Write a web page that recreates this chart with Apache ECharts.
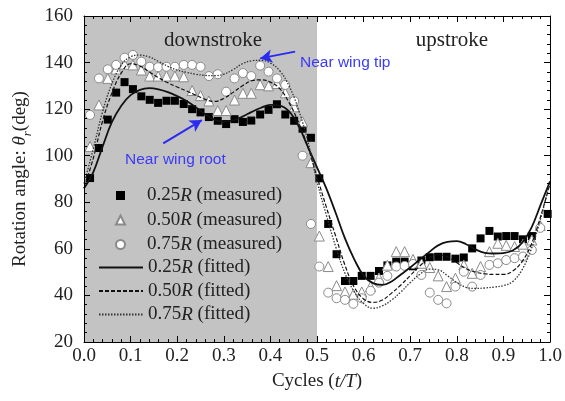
<!DOCTYPE html>
<html><head><meta charset="utf-8">
<script src="https://cdn.jsdelivr.net/npm/echarts@6/dist/echarts.min.js"></script>
<style>html,body{margin:0;padding:0;background:#fff}#c{width:565px;height:401px}</style>
</head><body><div id="c"></div><script>
// ---- data ----
const tMeasured = [0.013,0.032,0.051,0.069,0.087,0.105,0.123,0.141,0.159,0.177,0.195,0.214,0.232,0.250,0.268,0.287,0.305,0.323,0.341,0.359,0.378,0.396,0.414,0.432,0.451,0.469,0.487,0.505,0.524,0.542,0.560,0.578,0.596,0.615,0.633,0.651,0.670,0.688,0.706,0.724,0.742,0.760,0.778,0.797,0.815,0.833,0.851,0.870,0.888,0.906,0.924,0.942,0.961,0.979,0.995];
const measured25 = [90.4,103.3,115.5,127.1,131.6,128.6,125.5,124.0,122.7,123.6,123.6,122.2,120.0,118.6,116.6,115.0,113.6,115.7,114.5,115.1,117.7,119.7,122.1,117.7,115.0,111.6,107.7,90.3,70.7,57.7,46.2,46.2,48.4,48.4,50.5,52.9,54.5,54.5,52.5,55.0,56.4,56.6,56.6,55.8,56.3,60.2,64.5,67.7,65.3,65.5,65.5,64.1,65.5,null,75.0];
const measured50 = [104,121.8,133.2,137.2,139.3,139.0,136.8,134.2,134.2,134.2,134.2,133.9,128.0,125.8,123.5,119.4,119.4,123.9,126.8,126.8,130.5,130.0,131.0,127.0,121.0,114.6,97.0,65.5,52.4,44.2,41.5,40.5,41.5,43.8,47.5,53.0,58.8,58.8,55.5,53.8,52.0,48.4,43.8,47.4,53.1,49.5,52.4,58.8,62.4,61.5,61.0,62.0,63.8,70.0,null];
const measured75 = [117.5,133.2,137.1,139.0,142.1,143.3,140.4,138.2,138.0,138.2,138.2,139.0,139.0,138.2,134.2,135.0,127.5,133.2,135.5,134.2,138.7,136.1,133.2,130.4,123.5,100.0,70.7,52.4,41.2,38.8,38.1,36.4,38.8,42.0,45.5,48.4,52.4,52.7,53.5,48.8,41.2,38.1,36.6,43.8,50.2,43.8,48.8,53.1,53.8,55.2,56.0,56.7,59.5,69.0,null];
const tFit = [0,0.02,0.04,0.06,0.08,0.10,0.12,0.14,0.16,0.18,0.20,0.22,0.24,0.26,0.28,0.30,0.32,0.34,0.36,0.38,0.40,0.42,0.44,0.46,0.48,0.50,0.52,0.54,0.56,0.58,0.60,0.62,0.64,0.66,0.68,0.70,0.72,0.74,0.76,0.78,0.80,0.82,0.84,0.86,0.88,0.90,0.92,0.94,0.96,0.98,1.00];
const fitted25 = [86,93,104,114.5,121.5,126,128.3,129,128.5,127.3,125.6,123.5,120.8,117.8,115.5,114.6,115.2,116.8,118.8,120.6,121.8,121.5,119,113,104,95,86,75.5,64.5,55.5,48.5,45.3,44.5,46,49,52,55.3,58.5,61.5,63,63.3,62,59.8,58.3,58,58.2,59.3,62.5,69,79,89];
const fitted50 = [86,99,115,127,135.5,139.5,138.5,136,133.5,131.3,129.5,127.8,126,124.2,123.3,124.6,127.2,130,132.2,132.6,131.6,128.8,122.8,114.5,104,91,78,65.5,53,43.5,38.5,37,38,41,44.5,48.5,52.5,56,57.5,56.5,54,51.5,50,49.3,49,49,50.5,54.5,62,74,88];
const fitted75 = [88,103,119,131,139,142.5,143.2,142.4,140.5,138.4,136.8,135.8,135,134.5,134.4,135,137,139.5,140.8,141,139.8,136.5,130,120,106.5,89,74.5,61,49.5,41.5,36.5,34.5,35.5,38,41.5,45.5,49,51.3,51,48.5,45.5,43.5,43,43.2,43.6,44.2,46,51,60,73,89];
const seriesNames = ['0.25R (measured)','0.50R (measured)','0.75R (measured)','0.25R (fitted)','0.50R (fitted)','0.75R (fitted)'];
const phaseLabels = ['downstroke','upstroke'];
const noteLabels = ['Near wing tip','Near wing root'];
const tipArrow = [[0.453,144.7],[0.378,141.8]];
const rootArrow = [[0.170,105.3],[0.253,115.3]];

// ---- chart ----
const serif = '"Liberation Serif","Times New Roman",serif';
const sans = '"Liberation Sans",Arial,sans-serif';
const pairs = (xs, ys) => xs.map((x,i)=>[x, ys[i]]).filter(p=>p[1]!=null);
const chart = echarts.init(document.getElementById('c'));

function axisBase(pos, show){
  return {
    type:'value', position:pos, z:10,
    axisLine:{show:true,onZero:false,lineStyle:{color:'#000',width:1}},
    axisTick:{show:true,inside:true,length:6,lineStyle:{color:'#000',width:1}},
    minorTick:{show:true,splitNumber:5,length:3,lineStyle:{color:'#000',width:1}},
    splitLine:{show:false}, minorSplitLine:{show:false},
    axisLabel:{show:show,fontFamily:serif,fontSize:19,color:'#222'}
  };
}
const xB = Object.assign(axisBase('bottom',true),{min:0,max:1,interval:0.1});
xB.axisLabel.margin = 5;
xB.axisLabel.formatter = v => v.toFixed(1);
xB.name = '{a|Cycles (}{i|t/T}{a|)}';
xB.nameLocation = 'middle'; xB.nameGap = 30;
xB.nameTextStyle = {rich:{a:{fontFamily:serif,fontSize:19,color:'#222'},i:{fontFamily:serif,fontSize:19,fontStyle:'italic',color:'#222'}}};
const xT = Object.assign(axisBase('top',false),{min:0,max:1,interval:0.1});
const yL = Object.assign(axisBase('left',true),{min:20,max:160,interval:20});
yL.axisLabel.margin = 11;
yL.name = '{a|Rotation angle: }{i|θ}{s|r}{a|(deg)}';
yL.nameLocation = 'middle'; yL.nameGap = 47; yL.nameRotate = 90;
yL.nameTextStyle = {rich:{
  a:{fontFamily:serif,fontSize:19,color:'#222'},
  i:{fontFamily:serif,fontSize:19,fontStyle:'italic',color:'#222'},
  s:{fontFamily:serif,fontSize:13,fontStyle:'italic',color:'#222',verticalAlign:'bottom',lineHeight:28}}};
const yR = Object.assign(axisBase('right',false),{min:20,max:160,interval:20});

const legendText = {fontFamily:serif,fontSize:19,color:'#222',rich:{i:{fontFamily:serif,fontSize:19,fontStyle:'italic',color:'#222'}}};
const fmt = n => n.replace('R','{i|R}');

const option = {
  animation:false,
  backgroundColor:'#fff',
  grid:{left:84,right:15,top:16,bottom:59},
  xAxis:[xB,xT],
  yAxis:[yL,yR],
  legend:[{
    data:seriesNames.slice(0,3), orient:'vertical', left:115, top:186, padding:0,
    itemWidth:9, itemHeight:9, itemGap:5.5,
    textStyle:Object.assign({padding:[0,0,0,17]},legendText), formatter:fmt
  },{
    data:seriesNames.slice(3).map(n=>({name:n,itemStyle:{opacity:0}})), orient:'vertical', left:98, top:258, padding:0,
    itemWidth:44, itemHeight:8, itemGap:4.5,
    textStyle:legendText, formatter:fmt
  }],
  graphic:[
    {type:'text',x:213,y:40,style:{text:phaseLabels[0],fontFamily:serif,fontSize:21,fill:'#222',align:'center',verticalAlign:'middle'},z:20},
    {type:'text',x:452,y:40,style:{text:phaseLabels[1],fontFamily:serif,fontSize:21,fill:'#222',align:'center',verticalAlign:'middle'},z:20},
    {type:'text',x:300,y:63,style:{text:noteLabels[0],fontFamily:sans,fontSize:15.5,fill:'#3b3bf5',align:'left',verticalAlign:'middle'},z:20},
    {type:'text',x:125,y:160,style:{text:noteLabels[1],fontFamily:sans,fontSize:15.5,fill:'#3b3bf5',align:'left',verticalAlign:'middle'},z:20}
  ],
  series:[
    {name:seriesNames[0],type:'scatter',z:3,symbol:'rect',symbolSize:8,
     itemStyle:{color:'#000',opacity:1},data:pairs(tMeasured,measured25)},
    {name:seriesNames[1],type:'scatter',z:3,symbol:'triangle',symbolSize:10,
     itemStyle:{color:'#fff',borderColor:'#8a8a8a',borderWidth:1,opacity:1},data:pairs(tMeasured,measured50)},
    {name:seriesNames[2],type:'scatter',z:3,symbol:'circle',symbolSize:9,
     itemStyle:{color:'#fff',borderColor:'#8a8a8a',borderWidth:1,opacity:1},data:pairs(tMeasured,measured75)},
    {name:seriesNames[3],type:'line',z:4,symbol:'none',smooth:0.4,
     lineStyle:{color:'#111',width:1.8,type:'solid'},itemStyle:{color:'#111'},
     data:pairs(tFit,fitted25),
     markArea:{silent:true,z:1,itemStyle:{color:'#c3c3c3'},data:[[{xAxis:0},{xAxis:0.5}]]},
     markLine:{silent:true,symbol:['none','arrow'],symbolSize:[10,12],label:{show:false},
       lineStyle:{color:'#2a2af0',width:2,type:'solid'},
       data:[[{coord:tipArrow[0]},{coord:tipArrow[1]}],[{coord:rootArrow[0]},{coord:rootArrow[1]}]]}},
    {name:seriesNames[4],type:'line',z:4,symbol:'none',smooth:0.4,
     lineStyle:{color:'#111',width:1.2,type:[4,2]},itemStyle:{color:'#111'},
     data:pairs(tFit,fitted50)},
    {name:seriesNames[5],type:'line',z:4,symbol:'none',smooth:0.4,
     lineStyle:{color:'#333',width:1.3,type:[1.5,1.5]},itemStyle:{color:'#333'},
     data:pairs(tFit,fitted75)}
  ]
};
chart.setOption(option);
</script></body></html>
